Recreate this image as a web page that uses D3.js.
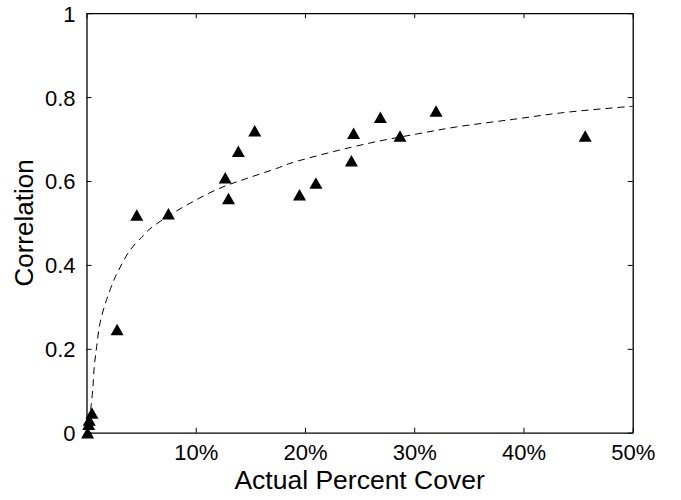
<!DOCTYPE html>
<html><head><meta charset="utf-8">
<script src="https://cdn.jsdelivr.net/npm/d3@7/dist/d3.min.js"></script>
<style>
body{margin:0;background:#fff;}
text{font-family:"Liberation Sans",Arial,Helvetica,sans-serif;fill:#000;}
</style></head>
<body><svg id="chart" width="681" height="500"></svg>
<script>
// Observed points: actual percent cover (%) and correlation
const coverPct = [0.1, 0.2, 0.25, 0.5, 2.8, 4.6, 7.5, 12.7, 13.0, 13.9, 15.4, 19.5, 21.0, 24.25, 24.45, 26.9, 28.7, 32.0, 45.65];
const correlation = [0.0, 0.02, 0.03, 0.047, 0.246, 0.519, 0.522, 0.608, 0.558, 0.671, 0.72, 0.567, 0.595, 0.648, 0.714, 0.752, 0.707, 0.767, 0.707];

// Fitted (dashed) curve
const fitX = [0.38, 0.57, 0.71, 0.93, 1.24, 1.85, 2.45, 2.76, 3.98, 5.2, 5.81, 7.34, 9.47, 12.22, 14.66, 17.41, 18.63, 22.59, 26.57, 30.23, 33.89, 39.07, 43.65, 49.45, 50];
const fitY = [0.054, 0.102, 0.157, 0.205, 0.262, 0.318, 0.36, 0.378, 0.435, 0.47, 0.486, 0.514, 0.547, 0.583, 0.606, 0.63, 0.642, 0.67, 0.694, 0.712, 0.729, 0.747, 0.763, 0.777, 0.778];

const xTicks = [0, 10, 20, 30, 40, 50];
const xTickLabels = ["", "10%", "20%", "30%", "40%", "50%"];
const yTicks = [0, 0.2, 0.4, 0.6, 0.8, 1];
const yTickLabels = ["0", "0.2", "0.4", "0.6", "0.8", "1"];
const xTitle = "Actual Percent Cover";
const yTitle = "Correlation";

const svg = d3.select("#chart");
const L = 86.5, R = 632.7, T = 13.2, B = 432.7;
const x = d3.scaleLinear().domain([0, 50]).range([L, R]);
const y = d3.scaleLinear().domain([0, 1]).range([B, T]);

// dashed fit
const fitData = fitX.map((v, i) => [v, fitY[i]]);
svg.append("path")
  .datum(fitData)
  .attr("fill", "none")
  .attr("stroke", "#000")
  .attr("stroke-width", 1)
  .attr("stroke-dasharray", "7,5")
  .attr("d", d3.line().x(d => x(d[0])).y(d => y(d[1])).curve(d3.curveCatmullRom.alpha(0.5)));

// triangle markers centred on their bounding box
const triW = 13, triH = 11.5;
const triangle = {
  draw(ctx) {
    ctx.moveTo(0, -triH / 2);
    ctx.lineTo(triW / 2, triH / 2);
    ctx.lineTo(-triW / 2, triH / 2);
    ctx.closePath();
  }
};
const pts = coverPct.map((v, i) => [v, correlation[i]]);
svg.append("g").selectAll("path").data(pts).join("path")
  .attr("transform", d => `translate(${x(d[0])},${y(d[1])})`)
  .attr("d", d3.symbol().type(triangle)())
  .attr("fill", "#000");

// axes (box with inward ticks)
const tickLen = 5;
const fs = 22;
const gx = svg.append("g").attr("transform", `translate(0,${B})`)
  .call(d3.axisBottom(x).tickValues(xTicks).tickSizeInner(-tickLen).tickSizeOuter(0)
    .tickFormat((d, i) => xTickLabels[i]).tickPadding(12));
const gxt = svg.append("g").attr("transform", `translate(0,${T})`)
  .call(d3.axisTop(x).tickValues(xTicks).tickSizeInner(-tickLen).tickSizeOuter(0).tickFormat(""));
const gy = svg.append("g").attr("transform", `translate(${L},0)`)
  .call(d3.axisLeft(y).tickValues(yTicks).tickSizeInner(-tickLen).tickSizeOuter(0)
    .tickFormat((d, i) => yTickLabels[i]).tickPadding(11));
const gyr = svg.append("g").attr("transform", `translate(${R},0)`)
  .call(d3.axisRight(y).tickValues(yTicks).tickSizeInner(-tickLen).tickSizeOuter(0).tickFormat(""));

[gx, gxt, gy, gyr].forEach(g => {
  g.select(".domain").attr("stroke", "#000").attr("stroke-width", 1.3);
  g.selectAll(".tick line").attr("stroke", "#000").attr("stroke-width", 1);
  g.selectAll(".tick text").attr("font-size", fs).attr("font-family", "Liberation Sans, Arial, sans-serif").attr("fill", "#000");
});
gx.selectAll(".tick text").attr("dy", "0.68em");
gy.selectAll(".tick text").attr("dy", "0.36em");

svg.append("text")
  .attr("x", (L + R) / 2).attr("y", 489)
  .attr("text-anchor", "middle").attr("font-size", 26.5)
  .text(xTitle);
svg.append("text")
  .attr("transform", `translate(33,${(T + B) / 2}) rotate(-90)`)
  .attr("text-anchor", "middle").attr("font-size", 26)
  .text(yTitle);
</script>
</body></html>
